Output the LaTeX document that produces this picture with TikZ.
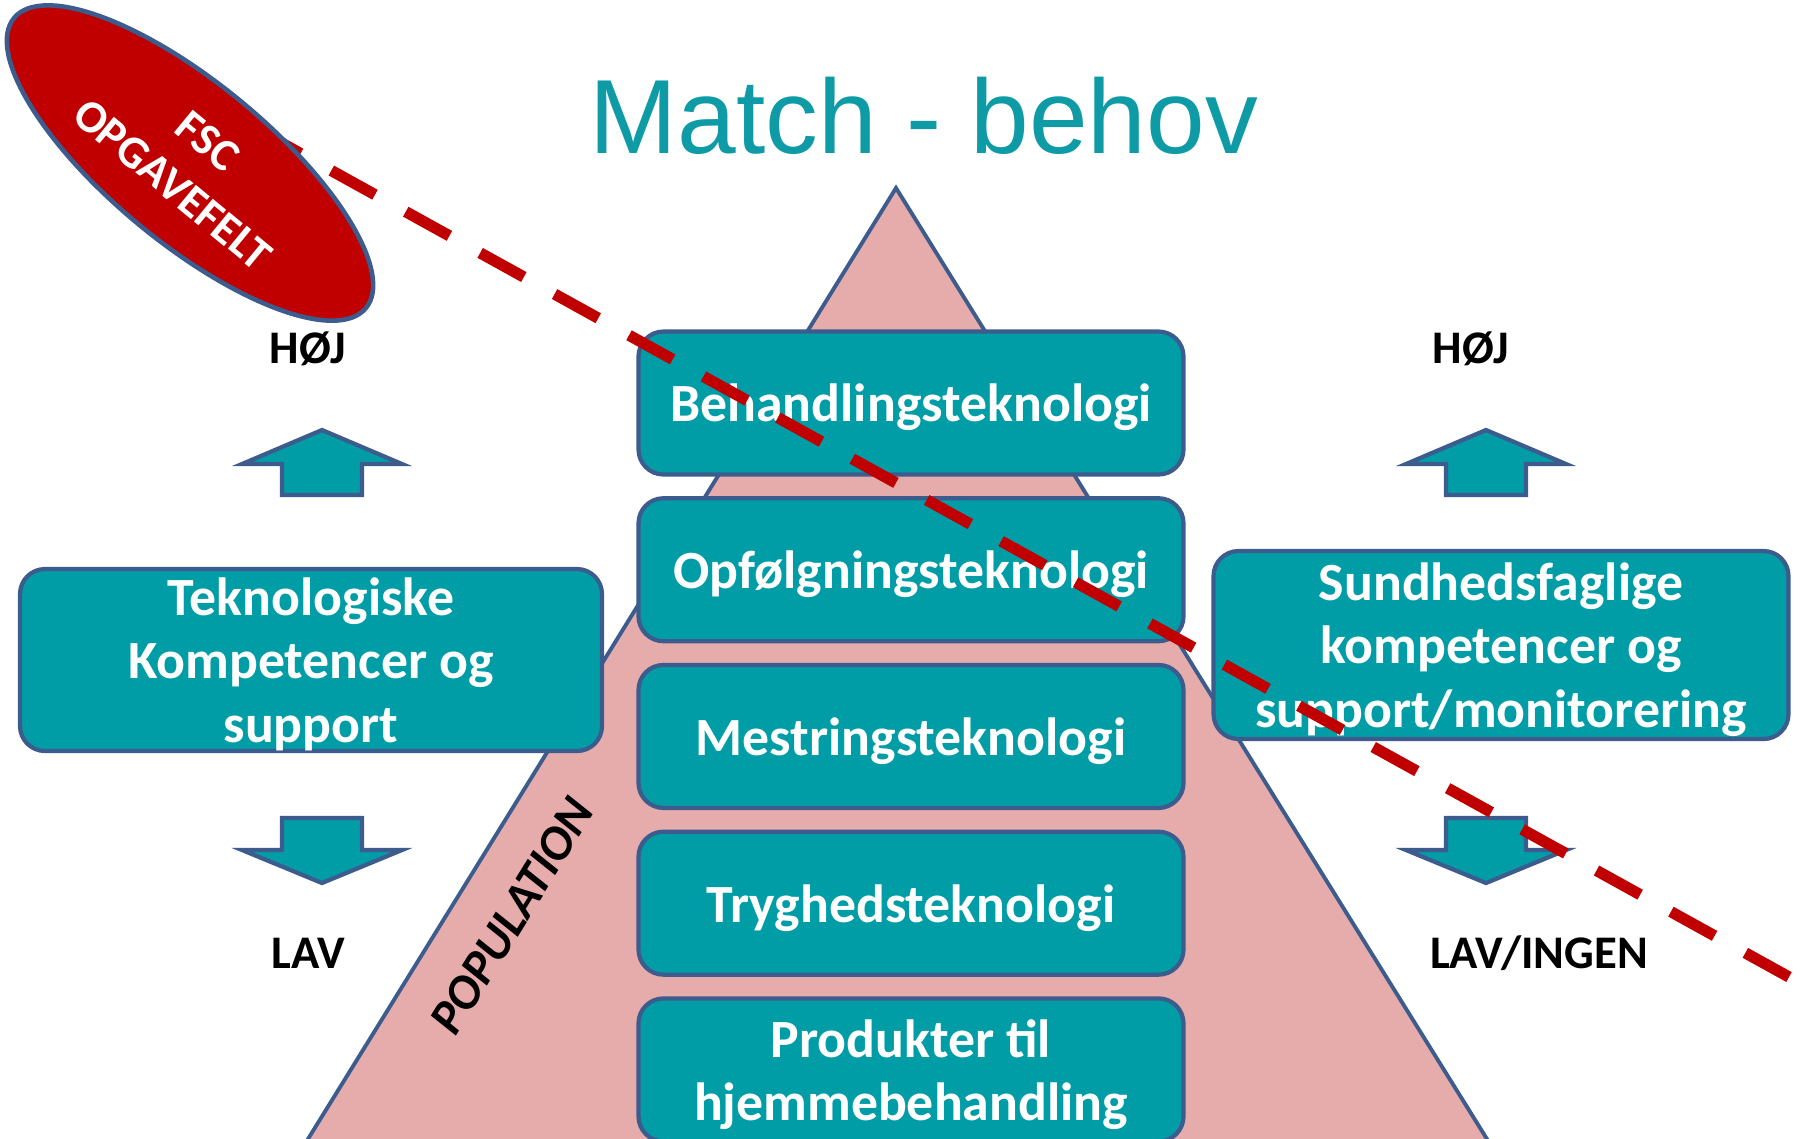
\documentclass[tikz,border=0pt]{standalone}
\usepackage{fontspec}
\setmainfont{Carlito}
\newfontfamily\titlefont{Liberation Sans}
\usetikzlibrary{positioning,shapes.geometric}
\definecolor{boxteal}{HTML}{009DA7}
\definecolor{titleteal}{HTML}{0E9BA6}
\definecolor{edgeblue}{HTML}{3C5C8E}
\definecolor{pyrpink}{HTML}{E6ACAC}
\definecolor{fscred}{HTML}{C00000}
\begin{document}
\begin{tikzpicture}[x=0.1mm,y=-0.1mm]
    \tikzstyle{techbox}=[draw=edgeblue,fill=boxteal,line width=1.2pt,rounded corners=2.5mm,minimum width=54.5mm,minimum height=14.3mm,inner sep=0pt,text depth=0pt,align=center,text=white,font=\bfseries\fontsize{15.3}{18}\selectfont];
    \tikzstyle{sidebox}=[techbox,minimum width=58.2mm,minimum height=18.2mm];
    \tikzstyle{gradelabel}=[font=\bfseries\fontsize{13.3}{16}\selectfont];
    \tikzstyle{blockarrow}=[draw=edgeblue,fill=boxteal,line width=1.2pt];
    \useasboundingbox (0,0) rectangle (1806,1138);

    % pyramid
    \draw[fill=pyrpink,draw=edgeblue,line width=1.1pt] (295,1160) -- (896,188) -- (1500,1160) -- cycle;
    \node at (924,153) (title) [anchor=base,font=\titlefont\fontsize{30}{36}\selectfont,text=titleteal] {Match - behov};

    \node at (911,403) (behand) [techbox] {Behandlingsteknologi};
    \node (opfolg) [techbox,below=1.95mm of behand] {Opfølgningsteknologi};
    \node (mestring) [techbox,below=1.95mm of opfolg] {Mestringsteknologi};
    \node (tryghed) [techbox,below=1.95mm of mestring] {Tryghedsteknologi};
    \node (produkt) [techbox,below=1.95mm of tryghed] {Produkter til\\hjemmebehandling};

    \node at (311,660) (teknolog) [sidebox] {Teknologiske\\Kompetencer og\\support};
    \node at (1501,645) (sundhed) [sidebox,minimum width=57.5mm,minimum height=18.8mm] {Sundhedsfaglige\\kompetencer og\\support/monitorering};

    \node at (512,916) (popul) [rotate=58.3,font=\bfseries\itshape\fontsize{14}{16}\selectfont] {POPULATION};

    % up and down arrows
    \foreach \ax in {322,1486} {
        \draw[blockarrow] (\ax,430) -- ++(80,34) -- ++(-40,0) -- ++(0,31) -- ++(-80,0) -- ++(0,-31) -- ++(-40,0) -- cycle;
        \draw[blockarrow] (\ax,883) -- ++(80,-33) -- ++(-40,0) -- ++(0,-32) -- ++(-80,0) -- ++(0,32) -- ++(-40,0) -- cycle;
    }
    \node at (308,349) (hojL) [gradelabel] {HØJ};
    \node at (1471,349) (hojR) [gradelabel] {HØJ};
    \node at (308,953) (lavL) [gradelabel] {LAV};
    \node at (1539,953) (lavR) [gradelabel] {LAV/INGEN};

    % dividing line and FSC field
    \coordinate (cutS) at (240,120);
    \coordinate (cutE) at (1789,977);
    \draw[fscred,line width=3.2pt,dash pattern=on 14.2pt off 10pt] (cutE) -- (cutS);
    \node at (190,163) (fsc) [ellipse,rotate=-39.5,draw=edgeblue,fill=fscred,line width=1.3pt,minimum width=45.6mm,minimum height=16mm,inner sep=0pt,align=center,text=white,font=\bfseries\fontsize{13}{15.8}\selectfont] {FSC\\OPGAVEFELT};
\end{tikzpicture}
\end{document}
